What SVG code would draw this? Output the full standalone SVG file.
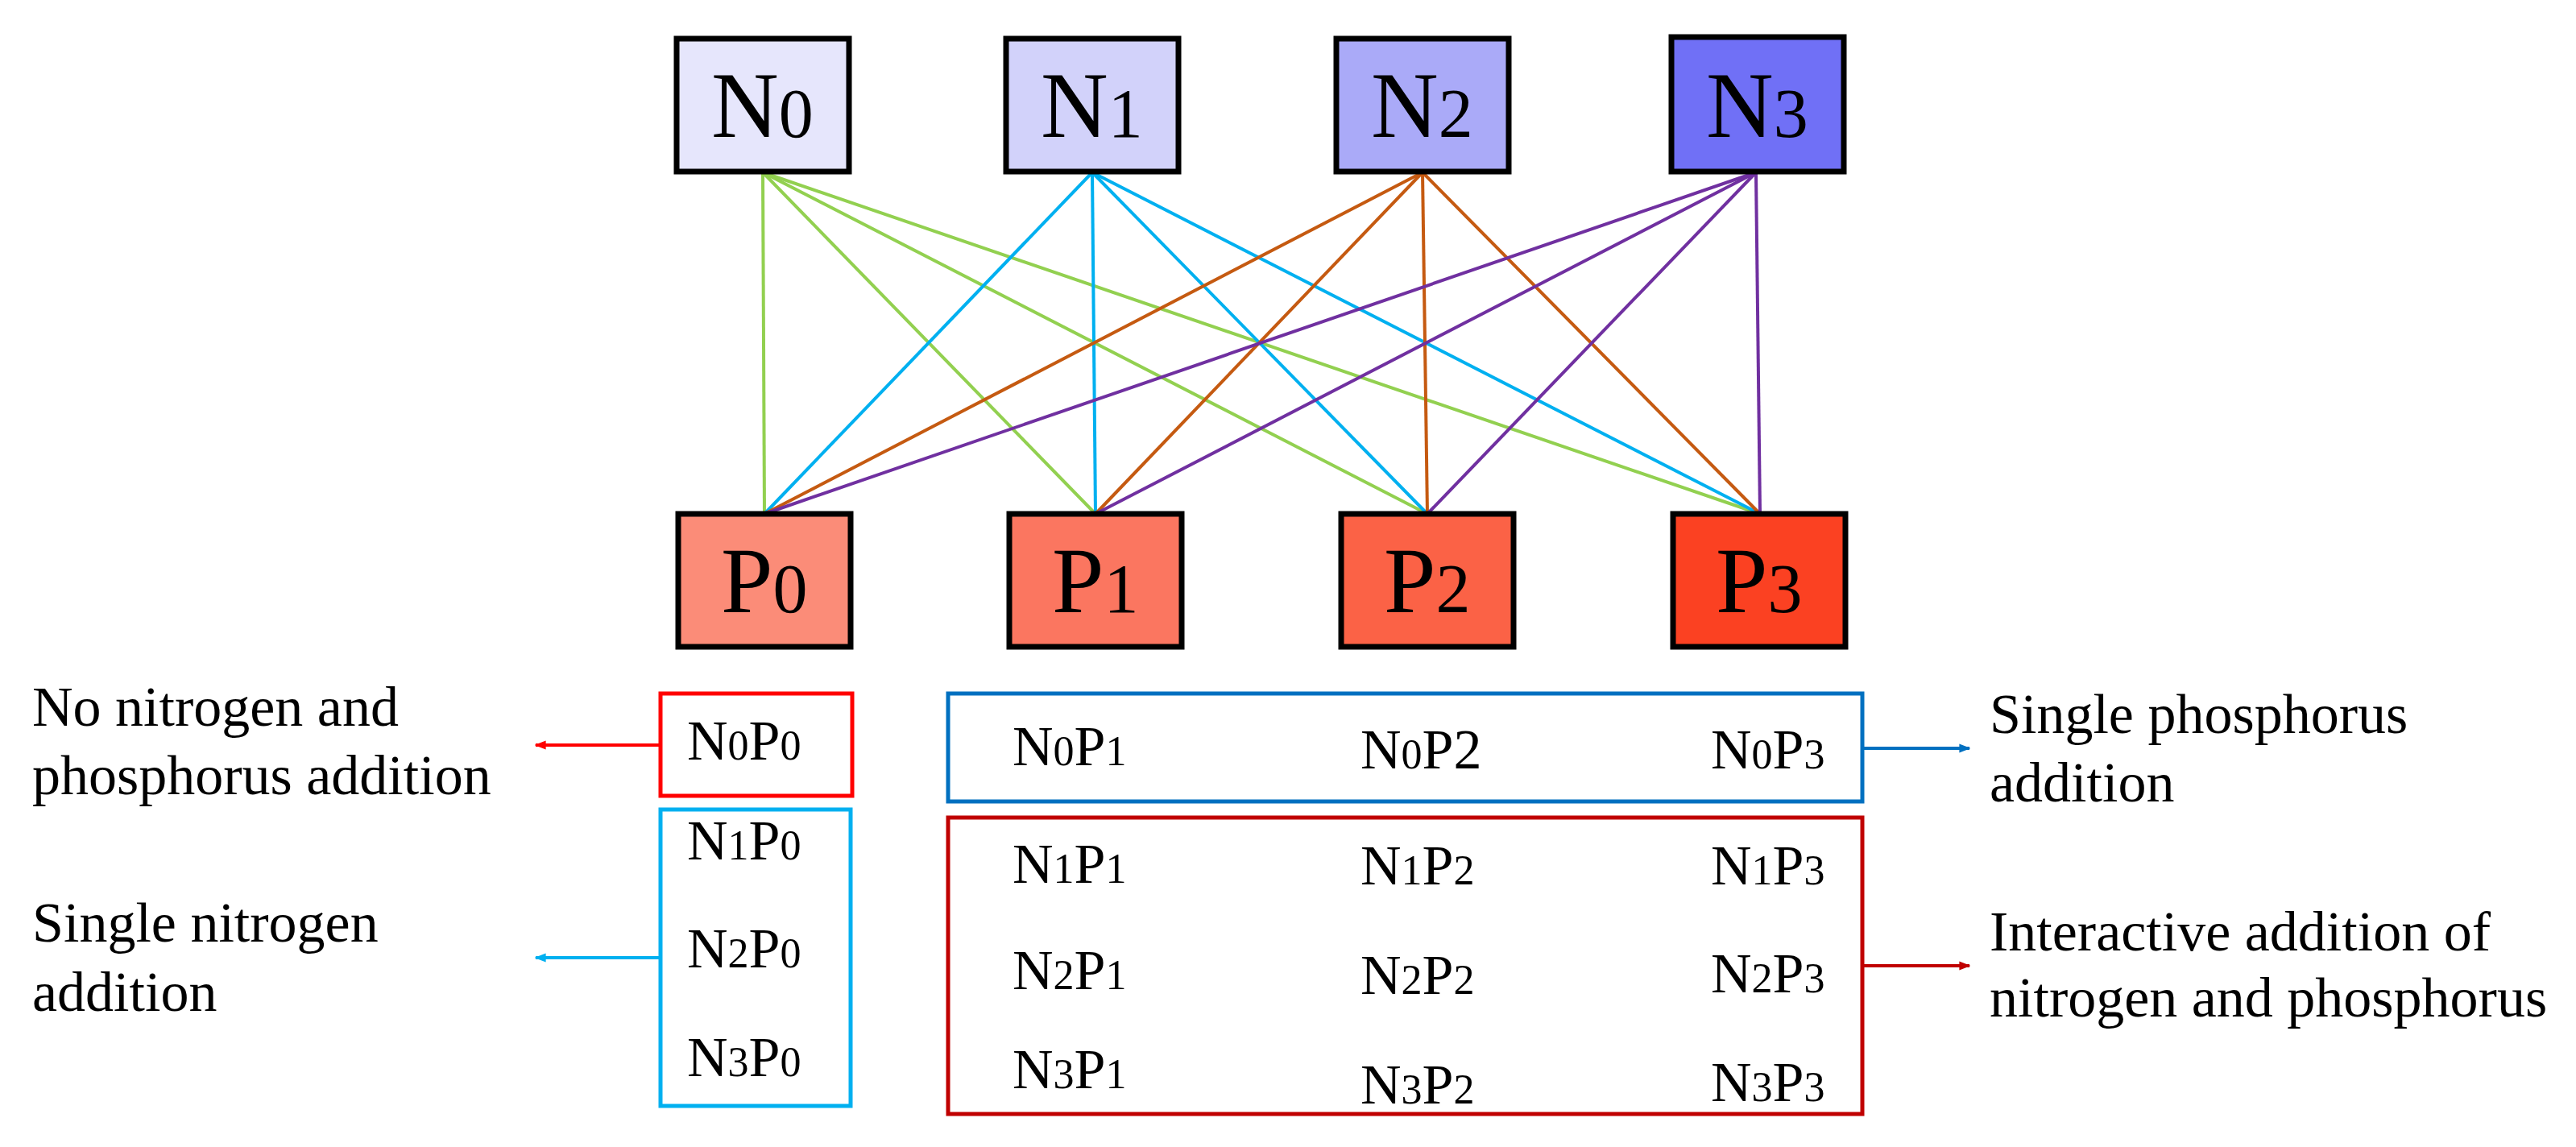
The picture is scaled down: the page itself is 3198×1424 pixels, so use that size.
<svg xmlns="http://www.w3.org/2000/svg" width="3198" height="1424" viewBox="0 0 3198 1424">
<style>
text{font-family:"Liberation Serif","Times New Roman",serif;fill:#000}
.big{font-size:116px}.bs{font-size:86px}
.c{font-size:70px}.cs{font-size:52px}
.lab{font-size:70px}
.node{stroke:#000;stroke-width:7}
.cn line{stroke-width:4}
</style>
<defs>
<marker id="ar" viewBox="0 0 10 10" refX="9" refY="5" markerWidth="4" markerHeight="4" orient="auto" markerUnits="strokeWidth"><path d="M0,1 L10,5 L0,9 Z" fill="context-stroke"/></marker>
<marker id="aR" viewBox="0 0 10 10" refX="9" refY="5" markerWidth="3.5" markerHeight="3.5" orient="auto"><path d="M0,1 L10,5 L0,9 Z" fill="#ff0000"/></marker>
<marker id="aC" viewBox="0 0 10 10" refX="9" refY="5" markerWidth="3.5" markerHeight="3.5" orient="auto"><path d="M0,1 L10,5 L0,9 Z" fill="#00b0f0"/></marker>
<marker id="aB" viewBox="0 0 10 10" refX="9" refY="5" markerWidth="3.5" markerHeight="3.5" orient="auto"><path d="M0,1 L10,5 L0,9 Z" fill="#0070c0"/></marker>
<marker id="aD" viewBox="0 0 10 10" refX="9" refY="5" markerWidth="3.5" markerHeight="3.5" orient="auto"><path d="M0,1 L10,5 L0,9 Z" fill="#c00000"/></marker>
</defs>
<rect width="3198" height="1424" fill="#fff"/>
<g id="connectors" class="cn">
<g stroke="#92d050"><line x1="947" y1="214" x2="949" y2="638"/><line x1="947" y1="214" x2="1360" y2="638"/><line x1="947" y1="214" x2="1772" y2="638"/><line x1="947" y1="214" x2="2185" y2="638"/></g>
<g stroke="#00b0f0"><line x1="1356" y1="214" x2="949" y2="638"/><line x1="1356" y1="214" x2="1360" y2="638"/><line x1="1356" y1="214" x2="1772" y2="638"/><line x1="1356" y1="214" x2="2185" y2="638"/></g>
<g stroke="#c55a11"><line x1="1766" y1="214" x2="949" y2="638"/><line x1="1766" y1="214" x2="1360" y2="638"/><line x1="1766" y1="214" x2="1772" y2="638"/><line x1="1766" y1="214" x2="2185" y2="638"/></g>
<g stroke="#7030a0"><line x1="2180" y1="214" x2="949" y2="638"/><line x1="2180" y1="214" x2="1360" y2="638"/><line x1="2180" y1="214" x2="1772" y2="638"/><line x1="2180" y1="214" x2="2185" y2="638"/></g>
<line x1="820" y1="925" x2="665" y2="925" stroke="#ff0000" stroke-width="7" marker-end="url(#aR)"/>
<line x1="820" y1="1189" x2="665" y2="1189" stroke="#00b0f0" stroke-width="7" marker-end="url(#aC)"/>
<line x1="2312" y1="929" x2="2445" y2="929" stroke="#0070c0" stroke-width="7" marker-end="url(#aB)"/>
<line x1="2312" y1="1199" x2="2445" y2="1199" stroke="#c00000" stroke-width="7" marker-end="url(#aD)"/>
</g>
<g id="N0"><rect class="node" x="840" y="48" width="214" height="165" fill="#e6e6fc"/><text x="883" y="170"><tspan class="big">N</tspan><tspan class="bs">0</tspan></text></g>
<g id="N1"><rect class="node" x="1249" y="48" width="214" height="165" fill="#d2d2fa"/><text x="1292" y="170"><tspan class="big">N</tspan><tspan class="bs">1</tspan></text></g>
<g id="N2"><rect class="node" x="1659" y="48" width="214" height="165" fill="#aaaaf8"/><text x="1702" y="170"><tspan class="big">N</tspan><tspan class="bs">2</tspan></text></g>
<g id="N3"><rect class="node" x="2075" y="46" width="214" height="167" fill="#7070f6"/><text x="2118" y="170"><tspan class="big">N</tspan><tspan class="bs">3</tspan></text></g>
<g id="P0"><rect class="node" x="842" y="638" width="214" height="165" fill="#fb8c78"/><text x="895" y="760"><tspan class="big">P</tspan><tspan class="bs">0</tspan></text></g>
<g id="P1"><rect class="node" x="1253" y="638" width="214" height="165" fill="#fb7660"/><text x="1306" y="760"><tspan class="big">P</tspan><tspan class="bs">1</tspan></text></g>
<g id="P2"><rect class="node" x="1665" y="638" width="214" height="165" fill="#fb6246"/><text x="1718" y="760"><tspan class="big">P</tspan><tspan class="bs">2</tspan></text></g>
<g id="P3"><rect class="node" x="2077" y="638" width="214" height="165" fill="#fb4122"/><text x="2130" y="760"><tspan class="big">P</tspan><tspan class="bs">3</tspan></text></g>
<g id="g-none"><rect x="820" y="861" width="238" height="127" fill="none" stroke="#ff0000" stroke-width="5"/>
<text x="853" y="943"><tspan class="c">N</tspan><tspan class="cs">0</tspan><tspan class="c">P</tspan><tspan class="cs">0</tspan></text></g>
<g id="g-singleN"><rect x="820" y="1005" width="236" height="368" fill="none" stroke="#00b0f0" stroke-width="5"/>
<text x="853" y="1067"><tspan class="c">N</tspan><tspan class="cs">1</tspan><tspan class="c">P</tspan><tspan class="cs">0</tspan></text>
<text x="853" y="1201"><tspan class="c">N</tspan><tspan class="cs">2</tspan><tspan class="c">P</tspan><tspan class="cs">0</tspan></text>
<text x="853" y="1336"><tspan class="c">N</tspan><tspan class="cs">3</tspan><tspan class="c">P</tspan><tspan class="cs">0</tspan></text></g>
<g id="g-singleP"><rect x="1177" y="861" width="1135" height="134" fill="none" stroke="#0070c0" stroke-width="5"/>
<text x="1257" y="950"><tspan class="c">N</tspan><tspan class="cs">0</tspan><tspan class="c">P</tspan><tspan class="cs">1</tspan></text>
<text x="1689" y="954"><tspan class="c">N</tspan><tspan class="cs">0</tspan><tspan class="c">P2</tspan></text>
<text x="2124" y="954"><tspan class="c">N</tspan><tspan class="cs">0</tspan><tspan class="c">P</tspan><tspan class="cs">3</tspan></text></g>
<g id="g-inter"><rect x="1177" y="1015" width="1135" height="368" fill="none" stroke="#c00000" stroke-width="5"/>
<text x="1257" y="1096"><tspan class="c">N</tspan><tspan class="cs">1</tspan><tspan class="c">P</tspan><tspan class="cs">1</tspan></text>
<text x="1689" y="1098"><tspan class="c">N</tspan><tspan class="cs">1</tspan><tspan class="c">P</tspan><tspan class="cs">2</tspan></text>
<text x="2124" y="1098"><tspan class="c">N</tspan><tspan class="cs">1</tspan><tspan class="c">P</tspan><tspan class="cs">3</tspan></text>
<text x="1257" y="1228"><tspan class="c">N</tspan><tspan class="cs">2</tspan><tspan class="c">P</tspan><tspan class="cs">1</tspan></text>
<text x="1689" y="1234"><tspan class="c">N</tspan><tspan class="cs">2</tspan><tspan class="c">P</tspan><tspan class="cs">2</tspan></text>
<text x="2124" y="1232"><tspan class="c">N</tspan><tspan class="cs">2</tspan><tspan class="c">P</tspan><tspan class="cs">3</tspan></text>
<text x="1257" y="1351"><tspan class="c">N</tspan><tspan class="cs">3</tspan><tspan class="c">P</tspan><tspan class="cs">1</tspan></text>
<text x="1689" y="1370"><tspan class="c">N</tspan><tspan class="cs">3</tspan><tspan class="c">P</tspan><tspan class="cs">2</tspan></text>
<text x="2124" y="1367"><tspan class="c">N</tspan><tspan class="cs">3</tspan><tspan class="c">P</tspan><tspan class="cs">3</tspan></text></g>
<g id="labels" class="lab">
<text class="lab" x="40" y="901">No nitrogen and</text>
<text class="lab" x="40" y="986">phosphorus addition</text>
<text class="lab" x="40" y="1169">Single nitrogen</text>
<text class="lab" x="40" y="1255">addition</text>
<text class="lab" x="2470" y="910">Single phosphorus</text>
<text class="lab" x="2470" y="995">addition</text>
<text class="lab" x="2470" y="1180">Interactive addition of</text>
<text class="lab" x="2470" y="1262">nitrogen and phosphorus</text>
</g>
</svg>
